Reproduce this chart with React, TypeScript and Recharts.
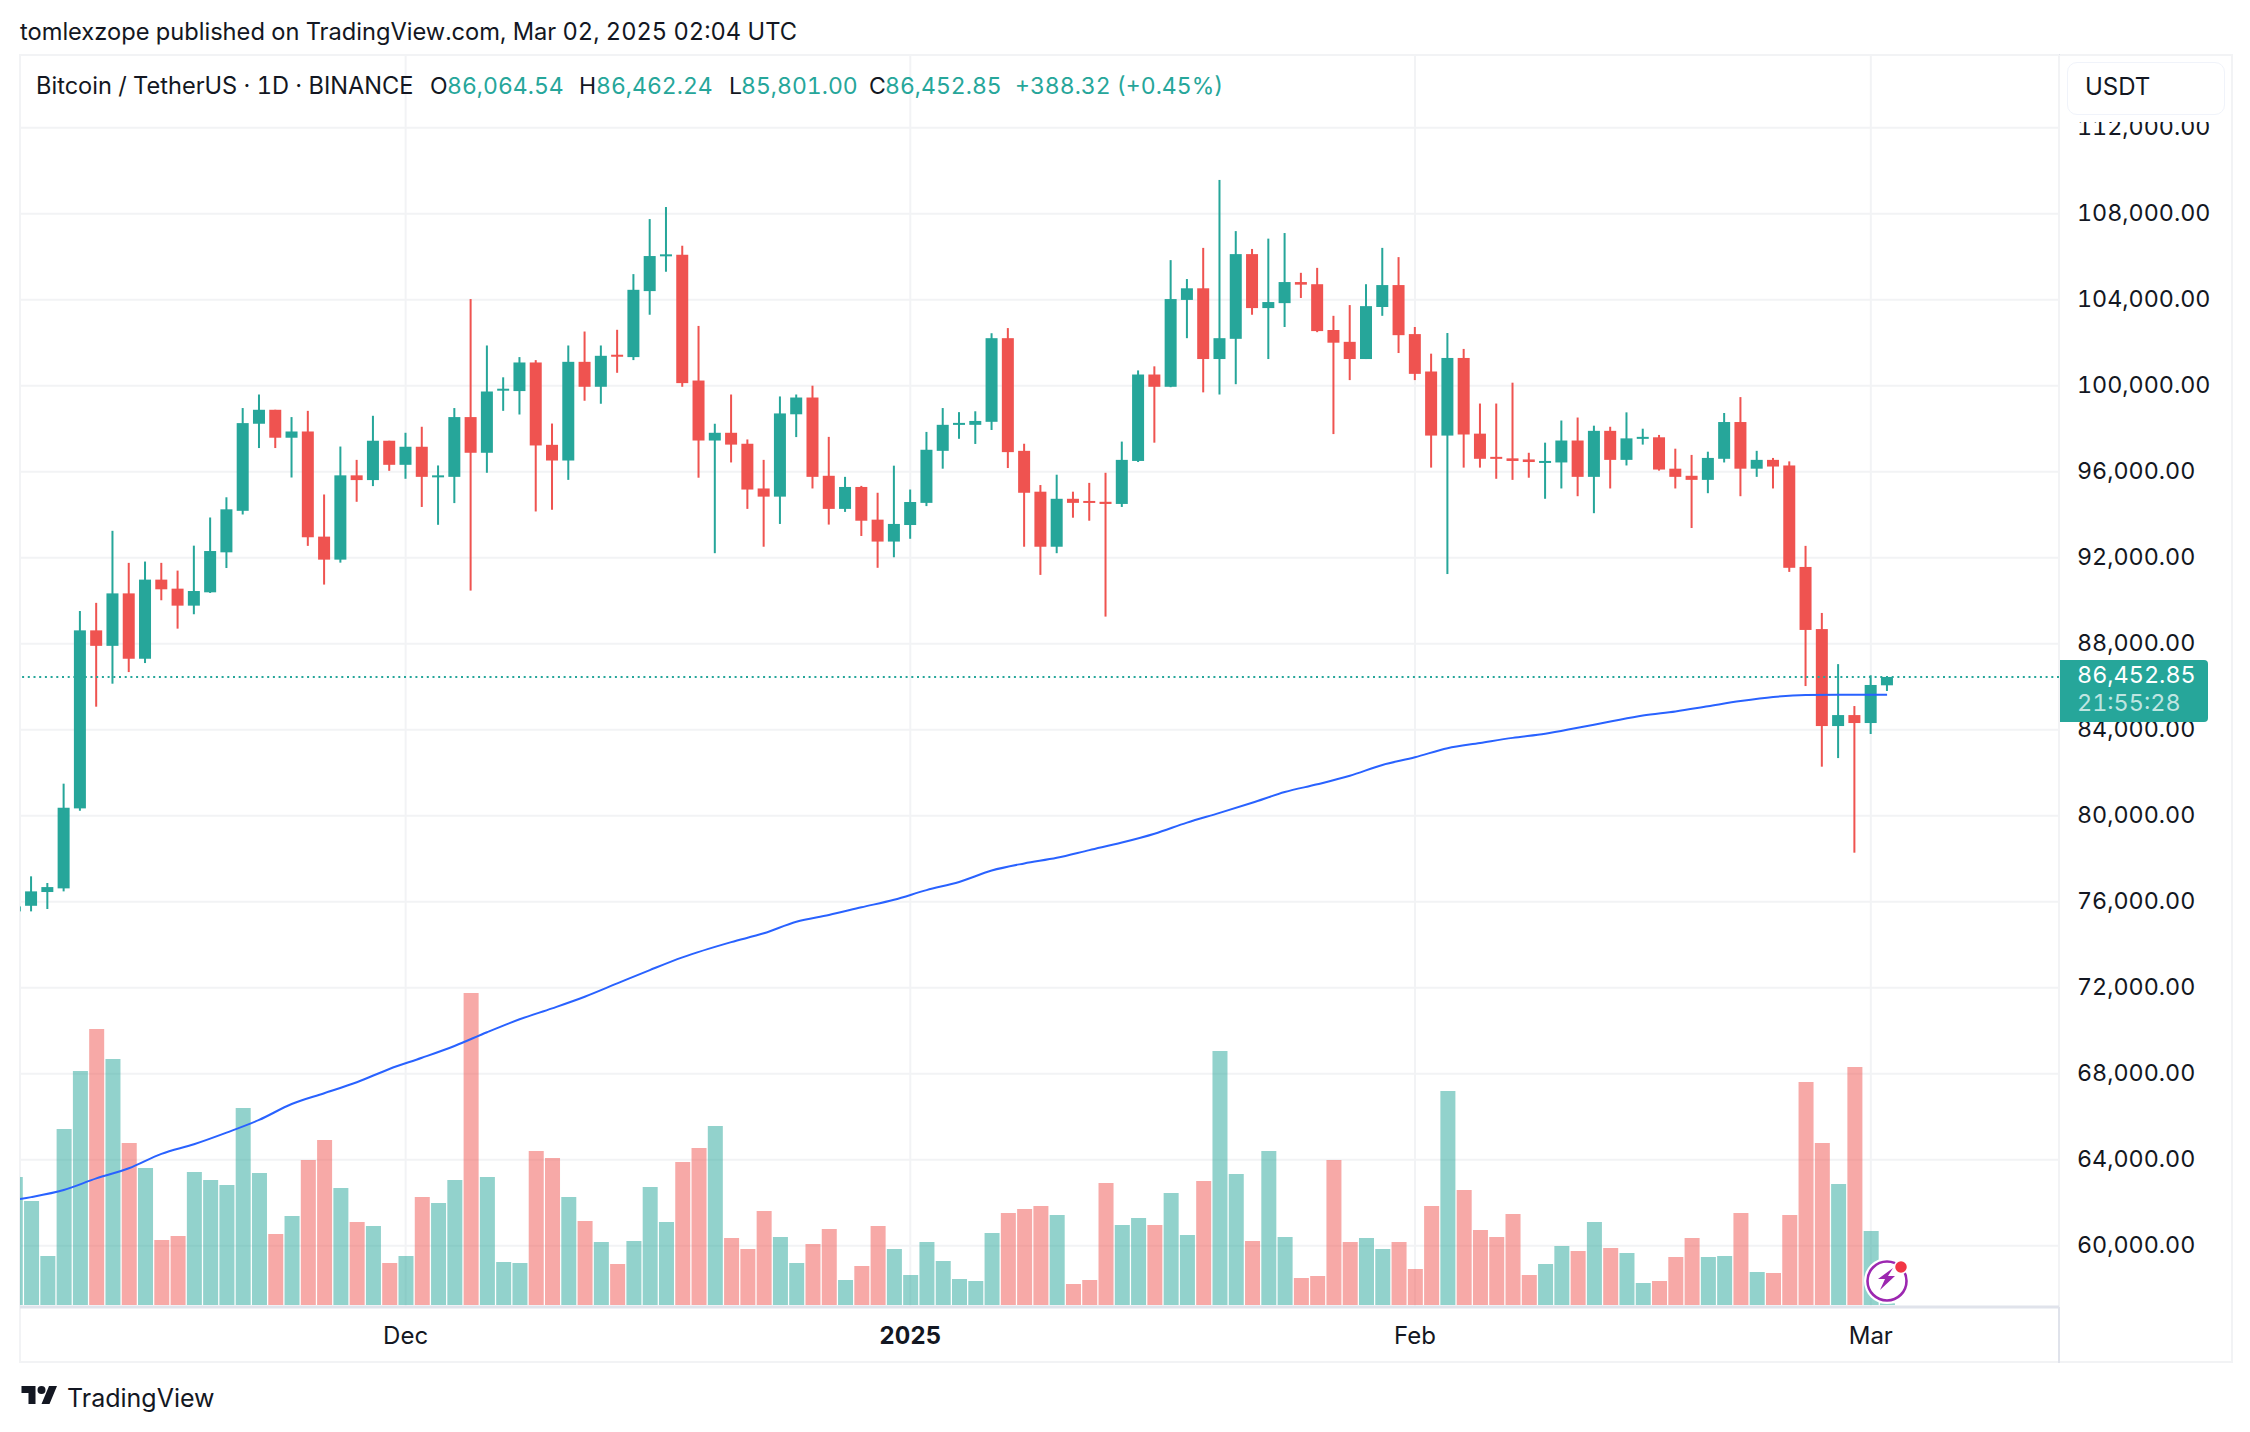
import { ComposedChart, Bar, Line, XAxis, YAxis, CartesianGrid, ReferenceLine } from 'recharts'

const GREEN = '#26a69a'
const RED = '#ef5350'
const INK = '#131722'
const FONT = 'Inter, sans-serif'

// daily candles, first one (index -1) is cut by the left edge
const opens = [
  75550, 75810, 76450, 76620, 80340, 88620, 87900, 90340, 87300, 90980, 90560, 89770, 90390, 92250, 94180, 98230,
  98880, 97580, 97870, 92980, 91910, 95830, 95610, 97440, 96320, 97160, 95770, 95760, 98540, 96880, 99780, 99750,
  101080, 97250, 96520, 101110, 99950, 101440, 101330, 104400, 106030, 106090, 100240, 97450, 97810, 97300, 95220, 94840,
  98670, 99450, 95810, 94270, 95290, 93770, 92750, 93520, 94550, 96970, 98180, 98180, 98320, 102210, 96970, 95070,
  92510, 94740, 94640, 94600, 94500, 96500, 100520, 99950, 103990, 104530, 101240, 102180, 106120, 103610, 103840, 104820,
  104720, 102590, 102040, 101240, 103660, 104680, 102400, 100660, 97680, 101290, 97770, 96690, 96620, 96570, 96430, 96430,
  97450, 95760, 97900, 96550, 97570, 97600, 96140, 95810, 95620, 96600, 98310, 96140, 96550, 96290, 91570, 88680,
  84170, 84680, 84310, 86064.54,
]
const highs = [
  75800, 77180, 76870, 81490, 89520, 89900, 93250, 91760, 91820, 91760, 91400, 92560, 93870, 94810, 98960, 99590,
  98880, 98540, 98830, 94940, 97170, 96550, 98600, 97440, 97810, 98090, 96290, 98960, 104030, 101870, 100390, 101330,
  101190, 98240, 101870, 102520, 101870, 102600, 105190, 107750, 108310, 106510, 102780, 98230, 99590, 97500, 96550, 99500,
  99590, 100000, 97620, 95760, 95340, 95020, 96280, 95170, 97850, 98960, 98770, 98810, 102440, 102680, 97300, 95380,
  95860, 95070, 95480, 95950, 97400, 100710, 100900, 105840, 104960, 106410, 109570, 107190, 106360, 106840, 107100, 105250,
  105480, 103250, 103750, 104720, 106410, 105980, 102730, 101490, 102450, 101710, 99170, 99170, 100140, 96880, 97350, 98380,
  98520, 98140, 98090, 98760, 98000, 97710, 97070, 96780, 96930, 98730, 99470, 96970, 96640, 96480, 92550, 89430,
  87050, 85100, 86530, 86462.24,
]
const lows = [
  75400, 75550, 75660, 76480, 80230, 85070, 86140, 86680, 87100, 90020, 88700, 89370, 90360, 91520, 94010, 97100,
  97100, 95730, 92550, 90750, 91770, 94600, 95330, 96040, 95670, 94360, 93530, 94540, 90470, 95950, 98830, 98660,
  94150, 94230, 95620, 99300, 99160, 100600, 101190, 103300, 105300, 99950, 95720, 92210, 96430, 94270, 92510, 93570,
  97610, 95220, 93540, 94130, 93010, 91530, 92020, 92880, 94400, 96140, 97530, 97290, 97940, 96170, 92510, 91200,
  92210, 93860, 93720, 89260, 94360, 96450, 97350, 99930, 102210, 99690, 99590, 100070, 103300, 101240, 102730, 104080,
  102490, 97750, 100260, 101240, 103250, 101520, 100260, 96190, 91240, 96190, 96190, 95670, 95620, 95720, 94740, 95220,
  94860, 94070, 95220, 96290, 97260, 96050, 95220, 93380, 95000, 96430, 94860, 95760, 95220, 91340, 86030, 82280,
  82680, 78280, 83800, 85801,
]
const closes = [
  75780, 76480, 76680, 80370, 88620, 87900, 90340, 87300, 90980, 90530, 89770, 90450, 92310, 94250, 98260, 98880,
  97580, 97870, 92950, 91910, 95830, 95610, 97440, 96320, 97160, 95760, 95830, 98540, 96880, 99730, 99860, 101080,
  97220, 96520, 101110, 99950, 101390, 101360, 104460, 106030, 106110, 100120, 97450, 97810, 97260, 95170, 94840, 98710,
  99450, 95760, 94270, 95290, 93720, 92750, 93570, 94590, 97020, 98180, 98270, 98360, 102210, 96910, 95020, 92510,
  94740, 94550, 94550, 94500, 96550, 100520, 99950, 104030, 104530, 101240, 102210, 106120, 103610, 103890, 104820, 104700,
  102540, 102000, 101240, 103700, 104680, 102350, 100550, 97680, 101290, 97730, 96600, 96600, 96500, 96450, 96500, 97450,
  95760, 97900, 96550, 97550, 97620, 96100, 95760, 95620, 96640, 98310, 96140, 96550, 96240, 91530, 88640, 84170,
  84680, 84310, 86080, 86452.85,
]
const volumes = [
  384, 312, 147, 528, 702, 828, 738, 486, 411, 195, 207, 399, 375, 360, 591, 396,
  213, 267, 435, 495, 351, 249, 237, 126, 147, 324, 306, 375, 936, 384, 129, 126,
  462, 441, 324, 252, 189, 123, 192, 354, 249, 429, 471, 537, 201, 168, 282, 204,
  126, 183, 228, 75, 117, 237, 168, 90, 189, 132, 78, 72, 216, 276, 288, 297,
  270, 63, 75, 366, 240, 261, 240, 336, 210, 372, 762, 393, 192, 462, 204, 81,
  87, 435, 189, 201, 168, 189, 108, 297, 642, 345, 225, 204, 273, 90, 123, 177,
  162, 249, 171, 156, 66, 72, 144, 201, 144, 147, 276, 99, 96, 270, 669, 486,
  363, 714, 222, 5,
]

const maBars = [
  -1, 0, 2, 4, 6, 8, 10, 12, 14, 16, 18, 20, 22, 24, 26, 28, 30, 32, 34, 36, 38, 40, 43, 45, 47, 49, 51, 53, 55, 57,
  59, 61, 63, 65, 67, 69, 71, 73, 75, 77, 79, 81, 83, 85, 87, 89, 91, 93, 95, 97, 99, 101, 103, 105, 107, 109, 111, 113, 114,
]
const maValues = [
  62130, 62260, 62590, 63130, 63600, 64270, 64720, 65260, 65850, 66590, 67090, 67600, 68220, 68740, 69290, 69930, 70530,
  71040, 71580, 72200, 72820, 73410, 74120, 74530, 75070, 75380, 75740, 76090, 76540, 76920, 77450, 77780, 78040, 78400,
  78750, 79160, 79680, 80130, 80600, 81100, 81460, 81860, 82360, 82720, 83140, 83380, 83620, 83810, 84090, 84380, 84660,
  84850, 85090, 85330, 85520, 85610, 85620, 85620, 85620,
]

const priceTicks = [60000, 64000, 68000, 72000, 76000, 80000, 84000, 88000, 92000, 96000, 100000, 104000, 108000, 112000]
const timeTicks = [23, 54, 85, 113]
const timeLabels = ['Dec', '2025', 'Feb', 'Mar']
const lastPrice = 86452.85

const legendItems = [
  { text: 'Bitcoin / TetherUS · 1D · BINANCE', left: 36, color: INK },
  { text: 'O', left: 430, color: INK },
  { text: '86,064.54', left: 447, color: GREEN },
  { text: 'H', left: 579, color: INK },
  { text: '86,462.24', left: 596, color: GREEN },
  { text: 'L', left: 729, color: INK },
  { text: '85,801.00', left: 741, color: GREEN },
  { text: 'C', left: 869, color: INK },
  { text: '86,452.85', left: 885, color: GREEN },
  { text: '+388.32 (+0.45%)', left: 1015, color: GREEN },
]

const rows = opens.map((open, k) => {
  const maAt = maBars.indexOf(k - 1)
  return {
    i: k - 1,
    open,
    high: highs[k],
    low: lows[k],
    close: closes[k],
    volume: volumes[k],
    ma: maAt >= 0 ? maValues[maAt] : null,
  }
})

function Candle(props: any) {
  const { x, y, width, height, payload } = props
  const { open, high, low, close } = payload
  const color = close >= open ? GREEN : RED
  const perUnit = height / (high - low)
  const bodyY = y + (high - Math.max(open, close)) * perUnit
  const bodyH = Math.max(Math.abs(open - close) * perUnit, 2)
  return (
    <g>
      <rect x={x + width / 2 - 1} y={y} width={2} height={height} fill={color} />
      <rect x={x} y={bodyY} width={width} height={bodyH} fill={color} />
    </g>
  )
}

function VolumeBar(props: any) {
  const { x, y, width, height, payload } = props
  const color = payload.close >= payload.open ? GREEN : RED
  return <rect x={x} y={y} width={width} height={height} fill={color} fillOpacity={0.5} />
}

function TimeTick({ x, y, payload }: any) {
  const label = timeLabels[timeTicks.indexOf(payload.value)]
  return (
    <text
      x={x}
      y={y}
      textAnchor="middle"
      dominantBaseline="central"
      fontFamily={FONT}
      fontSize={24}
      fontWeight={label === '2025' ? 700 : 400}
      fill={INK}
      style={{ fontVariantNumeric: 'tabular-nums' }}
    >
      {label}
    </text>
  )
}

function Label({ left, top, color, size = 23, weight = 400, children }: any) {
  return (
    <div
      style={{
        position: 'absolute',
        left,
        top,
        transform: 'translateY(-50%)',
        color,
        fontSize: size,
        fontWeight: weight,
        fontFamily: FONT,
        fontVariantNumeric: 'tabular-nums',
        lineHeight: 1,
        whiteSpace: 'nowrap',
      }}
    >
      {children}
    </div>
  )
}

function Rule({ left, top, width, height, color = '#f2f3f5' }: any) {
  return <div style={{ position: 'absolute', left, top, width, height, background: color }} />
}

export default function App() {
  return (
    <div style={{ position: 'fixed', left: 0, top: 0, width: 2250, height: 1432, background: '#fff', overflow: 'hidden' }}>
      <Rule left={19} top={54} width={2214} height={2} />
      <Rule left={19} top={54} width={2} height={1309} />
      <Rule left={19} top={1361} width={2214} height={2} />
      <Rule left={2231} top={54} width={2} height={1309} />
      <Rule left={2058} top={54} width={2} height={1309} color="#e0e3eb" />

      <div style={{ position: 'absolute', left: 0, top: 0 }}>
        <ComposedChart width={2250} height={1432} data={rows} margin={{ top: 55, right: 0, left: 20, bottom: 70 }}>
          <CartesianGrid stroke="#f2f3f5" strokeWidth={2} />
          <XAxis
            dataKey="i"
            type="number"
            domain={[-0.688, 124.56]}
            allowDataOverflow
            ticks={timeTicks}
            interval={0}
            height={55}
            tick={<TimeTick />}
            tickLine={false}
            tickMargin={22}
            axisLine={{ stroke: '#e0e3eb', strokeWidth: 3 }}
          />
          <XAxis xAxisId="vol" dataKey="i" type="number" domain={[-0.688, 124.56]} allowDataOverflow hide />
          <YAxis
            orientation="right"
            width={191}
            domain={[57149, 115381]}
            allowDataOverflow
            ticks={priceTicks}
            interval={0}
            tickFormatter={(v: number) => v.toLocaleString('en-US', { minimumFractionDigits: 2 })}
            tick={{ fontSize: 23.3, fill: INK, fontFamily: FONT, dy: -0.7, style: { fontVariantNumeric: 'tabular-nums' } }}
            tickLine={false}
            axisLine={false}
            tickMargin={12}
          />
          <YAxis yAxisId="vol" hide domain={[-6, 3750]} allowDataOverflow />
          <Bar
            xAxisId="vol"
            yAxisId="vol"
            dataKey="volume"
            barSize={15}
            shape={<VolumeBar />}
            isAnimationActive={false}
          />
          <Bar
            dataKey={(d: any) => [d.low, d.high]}
            barSize={12}
            shape={<Candle />}
            isAnimationActive={false}
          />
          <ReferenceLine y={lastPrice} stroke={GREEN} strokeWidth={2} strokeDasharray="2 3.7" />
          <Line
            type="monotone"
            dataKey="ma"
            stroke="#2962ff"
            strokeWidth={2}
            dot={false}
            activeDot={false}
            connectNulls
            isAnimationActive={false}
          />
        </ComposedChart>
      </div>

      <Label left={20} top={32} color={INK} size={23.65}>
        tomlexzope published on TradingView.com, Mar 02, 2025 02:04 UTC
      </Label>
      {legendItems.map((item, n) => (
        <Label key={item.left} left={item.left} top={86} color={item.color} size={n === 0 ? 23.6 : 23}>
          {item.text}
        </Label>
      ))}

      <div style={{ position: 'absolute', left: 2061, top: 56, width: 170, height: 66, background: '#fff' }} />
      <div
        style={{
          position: 'absolute',
          left: 2067,
          top: 62,
          width: 156,
          height: 51,
          background: '#fff',
          border: '1px solid #f0f3fa',
          borderRadius: 10,
        }}
      />
      <Label left={2085} top={87} color={INK} size={24}>
        USDT
      </Label>

      <div
        style={{
          position: 'absolute',
          left: 2060,
          top: 660,
          width: 148,
          height: 62,
          background: GREEN,
          borderRadius: '0 4px 4px 0',
        }}
      />
      <Label left={2077} top={675} color="#fff" size={23.4}>
        86,452.85
      </Label>
      <Label left={2077} top={703} color="#bfe5e1" size={23.4}>
        21:55:28
      </Label>

      <svg style={{ position: 'absolute', left: 1860, top: 1254 }} width={54} height={54}>
        <circle cx={27} cy={27} r={23} fill="#fff" />
        <circle cx={27} cy={27} r={19.5} fill="#fff" stroke="#9c27b0" strokeWidth={2.6} />
        <path d="M33 14 L18 25 L25 25 L20 36 L35 22 L28 22 Z" fill="#9c27b0" />
        <circle cx={41} cy={13} r={6.5} fill="#f23645" stroke="#fff" strokeWidth={1.5} />
      </svg>

      <svg style={{ position: 'absolute', left: 20, top: 1386 }} width={39} height={18} viewBox="0 4 36 18">
        <path d="M14 22H7V11H0V4h14v18zM28 22h-8l7.5-18h8L28 22z" fill={INK} />
        <circle cx={20} cy={8} r={4} fill={INK} />
      </svg>
      <Label left={67} top={1398} color={INK} size={25} weight={400}>
        TradingView
      </Label>
    </div>
  )
}
